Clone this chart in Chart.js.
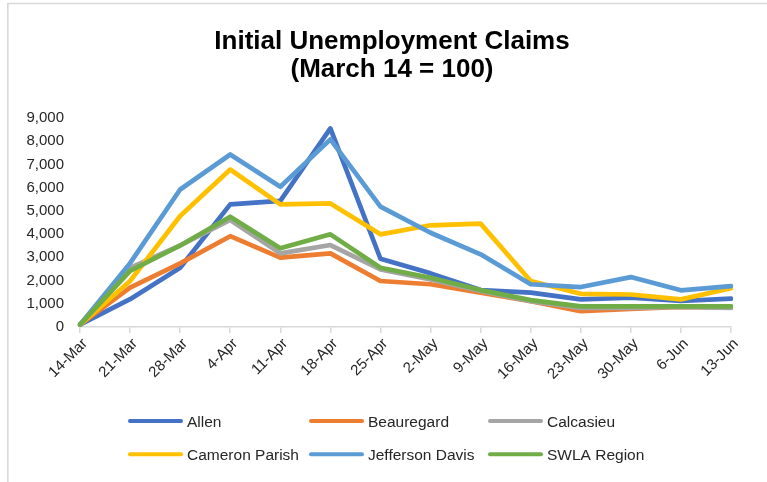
<!DOCTYPE html>
<html>
<head>
<meta charset="utf-8">
<script src="https://cdn.jsdelivr.net/npm/chart.js@4/dist/chart.umd.min.js"></script>
<style>
  html, body { margin: 0; padding: 0; background: #fff; }
  #c { display: block; }
</style>
</head>
<body>
<canvas id="c" width="767" height="482"></canvas>
<script>
// Week-ending dates
const weeks = ['14-Mar', '21-Mar', '28-Mar', '4-Apr', '11-Apr', '18-Apr', '25-Apr',
               '2-May', '9-May', '16-May', '23-May', '30-May', '6-Jun', '13-Jun'];

// Initial claims indexed to March 14 = 100
const allen          = [100, 1200, 2550, 5280, 5430, 8550, 2940, 2310, 1590, 1480, 1190, 1260, 1120, 1220];
const beauregard     = [100, 1700, 2740, 3910, 2990, 3170, 1980, 1840, 1480, 1110,  680,  780,  870,  830];
const calcasieu      = [100, 2550, 3510, 4610, 3170, 3530, 2480, 2050, 1550, 1110,  820,  820,  870,  820];
const cameronParish  = [100, 1980, 4780, 6780, 5280, 5320, 3990, 4380, 4450, 1980, 1430, 1400, 1190, 1670];
const jeffersonDavis = [100, 2750, 5920, 7430, 6040, 8080, 5180, 4060, 3130, 1840, 1720, 2150, 1580, 1760];
const swlaRegion     = [100, 2420, 3510, 4750, 3390, 3990, 2550, 2120, 1590, 1160,  890,  890,  890,  890];

const seriesNames  = ['Allen', 'Beauregard', 'Calcasieu', 'Cameron Parish', 'Jefferson Davis', 'SWLA Region'];
const seriesValues = [allen, beauregard, calcasieu, cameronParish, jeffersonDavis, swlaRegion];
const seriesColors = ['#4472C4', '#ED7D31', '#A5A5A5', '#FFC000', '#5B9BD5', '#70AD47'];

const titleLines = ['Initial Unemployment Claims', '(March 14 = 100)'];
const yMax = 9000;
const yStep = 1000;

const FONT = '"Liberation Sans", Arial, Helvetica, sans-serif';
const TEXT = '#262626';
const AXIS = '#d9d9d9';

// Background, outer frame, title and two-row legend
const decorations = {
  id: 'decorations',
  beforeDraw(chart) {
    const ctx = chart.ctx;
    ctx.save();
    ctx.fillStyle = '#fff';
    ctx.fillRect(0, 0, chart.width, chart.height);
    ctx.strokeStyle = AXIS;
    ctx.lineWidth = 1.6;
    ctx.beginPath();
    ctx.moveTo(7.8, chart.height);
    ctx.lineTo(7.8, 3.5);
    ctx.lineTo(chart.width, 3.5);
    ctx.stroke();
    ctx.restore();
  },
  afterDraw(chart) {
    const ctx = chart.ctx;
    ctx.save();
    // Title
    ctx.fillStyle = '#000';
    ctx.font = 'bold 26px ' + FONT;
    ctx.textAlign = 'center';
    ctx.textBaseline = 'alphabetic';
    ctx.fillText(titleLines[0], 392, 48.5);
    ctx.fillText(titleLines[1], 392, 77);

    // Legend: three columns, two rows
    const colX = [128, 309, 488];
    const rowY = [421, 454.3];
    ctx.font = '15.5px ' + FONT;
    ctx.textAlign = 'left';
    chart.data.datasets.forEach((ds, i) => {
      const x = colX[i % 3];
      const y = rowY[Math.floor(i / 3)];
      ctx.strokeStyle = ds.borderColor;
      ctx.lineWidth = 4;
      ctx.lineCap = 'round';
      ctx.beginPath();
      ctx.moveTo(x + 2, y);
      ctx.lineTo(x + 53, y);
      ctx.stroke();
      ctx.fillStyle = TEXT;
      ctx.fillText(ds.label, x + 59, y + 5.6);
    });
    ctx.restore();
  }
};

const datasets = seriesNames.map((name, i) => ({
  label: name,
  data: seriesValues[i],
  borderColor: seriesColors[i],
  backgroundColor: seriesColors[i],
  borderWidth: 4.7,
  borderJoinStyle: 'round',
  borderCapStyle: 'round',
  pointRadius: 0,
  pointHoverRadius: 0,
  tension: 0,
  fill: false,
  order: seriesNames.length - i
}));

new Chart(document.getElementById('c'), {
  type: 'line',
  data: { labels: weeks, datasets },
  options: {
    responsive: false,
    devicePixelRatio: 1,
    animation: false,
    events: [],
    layout: { padding: { top: 118, right: 36, bottom: 0, left: 0 } },
    plugins: {
      legend: { display: false },
      title: { display: false },
      tooltip: { enabled: false }
    },
    scales: {
      x: {
        type: 'category',
        offset: false,
        grid: {
          display: true,
          drawOnChartArea: false,
          drawTicks: true,
          tickLength: 6,
          color: AXIS,
          lineWidth: 1.5
        },
        border: { display: true, color: AXIS, width: 1.6 },
        ticks: {
          autoSkip: false,
          minRotation: 45,
          maxRotation: 45,
          padding: 2,
          labelOffset: 5,
          color: TEXT,
          font: { family: FONT, size: 15 }
        },
        afterFit(scale) { scale.height = 155; }
      },
      y: {
        min: 0,
        max: yMax,
        grid: { display: false, drawTicks: false },
        border: { display: false },
        ticks: {
          stepSize: yStep,
          padding: 16,
          color: TEXT,
          font: { family: FONT, size: 15 },
          callback: v => v.toLocaleString('en-US')
        },
        afterFit(scale) { scale.width = 80; }
      }
    }
  },
  plugins: [decorations]
});
</script>
</body>
</html>
